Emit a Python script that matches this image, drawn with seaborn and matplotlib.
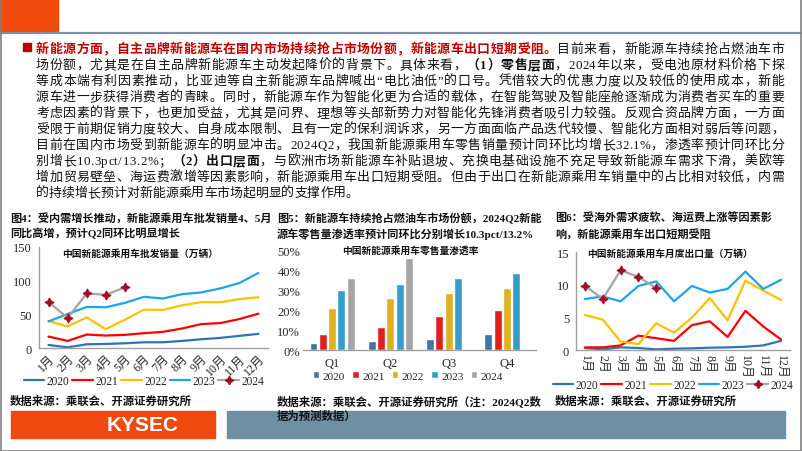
import numpy as np
import pandas as pd
import seaborn as sns
import matplotlib
matplotlib.use("Agg")
import matplotlib.pyplot as plt
from matplotlib import font_manager
from matplotlib.lines import Line2D
from matplotlib.patches import Rectangle

W, H = 802, 452
LATIN = "Liberation Serif"
CJK = "Noto Sans CJK SC"

# ---- data ----
months = ["1月", "2月", "3月", "4月", "5月", "6月", "7月", "8月", "9月", "10月", "11月", "12月"]
years = ["2020", "2021", "2022", "2023", "2024"]

# fig4: NEV passenger car wholesale (10k units)
wholesale_2020 = [4.5, 1.0, 5.5, 6.0, 7.0, 8.5, 8.5, 10.5, 13.0, 15.0, 18.0, 21.0]
wholesale_2021 = [17.0, 10.5, 20.0, 18.5, 19.5, 22.0, 24.0, 29.0, 35.5, 37.0, 43.0, 51.0]
wholesale_2022 = [40.0, 32.0, 45.5, 28.0, 42.0, 57.0, 56.5, 63.5, 68.0, 68.0, 72.5, 75.5]
wholesale_2023 = [39.5, 50.5, 61.0, 60.5, 67.0, 76.0, 73.5, 80.0, 82.5, 88.5, 96.5, 111.5]
wholesale_2024 = [68.5, 44.5, 81.0, 79.0, 90.0]

# fig5: retail penetration rate (%)
quarters = ["Q1", "Q2", "Q3", "Q4"]
pen_2020 = [3.5, 4.4, 5.4, 7.9]
pen_2021 = [8.2, 11.7, 17.4, 20.3]
pen_2022 = [21.1, 26.5, 28.7, 31.2]
pen_2023 = [30.2, 33.3, 36.4, 39.1]
pen_2024 = [36.2, 46.5, np.nan, np.nan]
pen_ticks = [0, 10, 20, 30, 40, 50]
pen_ticklabels = ["0%", "10%", "20%", "30%", "40%", "50%"]

# fig6: monthly exports (10k units)
export_2020 = [0.3, 0.1, 0.4, 0.3, 0.1, 0.2, 0.25, 0.35, 0.4, 0.5, 0.7, 1.4]
export_2021 = [0.4, 0.4, 0.7, 2.2, 1.8, 1.4, 3.8, 4.4, 2.0, 6.0, 3.6, 1.6]
export_2022 = [5.35, 4.65, 1.3, 0.9, 4.1, 2.65, 4.95, 7.95, 4.55, 10.6, 9.1, 7.65]
export_2023 = [7.8, 8.2, 7.45, 9.8, 10.5, 7.45, 9.8, 8.8, 9.35, 12.0, 9.35, 10.75]
export_2024 = [9.85, 7.8, 12.2, 11.2, 9.45]

RED = "#C00000"
BLK = "#111111"
para = [
    [("新能源方面，自主品牌新能源车在国内市场持续抢占市场份额，新能源车出口短期受阻。", RED, "bold"),
     ("目前来看，新能源车持续抢占燃油车市", BLK, "normal")],
    [("场份额，尤其是在自主品牌新能源车主动发起降价的背景下。具体来看，", BLK, "normal"),
     ("（1）零售层面", BLK, "bold"), ("，2024年以来，受电池原材料价格下探", BLK, "normal")],
    [("等成本端有利因素推动，比亚迪等自主新能源车品牌喊出“电比油低”的口号。凭借较大的优惠力度以及较低的使用成本，新能", BLK, "normal")],
    [("源车进一步获得消费者的青睐。同时，新能源车作为智能化更为合适的载体，在智能驾驶及智能座舱逐渐成为消费者买车的重要", BLK, "normal")],
    [("考虑因素的背景下，也更加受益，尤其是问界、理想等头部新势力对智能化先锋消费者吸引力较强。反观合资品牌方面，一方面", BLK, "normal")],
    [("受限于前期促销力度较大、自身成本限制、且有一定的保利润诉求，另一方面面临产品迭代较慢、智能化方面相对弱后等问题，", BLK, "normal")],
    [("目前在国内市场受到新能源车的明显冲击。2024Q2，我国新能源乘用车零售销量预计同环比均增长32.1%，渗透率预计同环比分", BLK, "normal")],
    [("别增长10.3pct/13.2%；", BLK, "normal"), ("（2）出口层面", BLK, "bold"),
     ("，与欧洲市场新能源车补贴退坡、充换电基础设施不充足导致新能源车需求下滑，美欧等", BLK, "normal")],
    [("增加贸易壁垒、海运费激增等因素影响，新能源乘用车出口短期受阻。但由于出口在新能源乘用车销量中的占比相对较低，内需", BLK, "normal")],
    [("的持续增长预计对新能源乘用车市场起明显的支撑作用。", BLK, "normal")],
]

title4 = ["图4：受内需增长推动，新能源乘用车批发销量4、5月", "同比高增，预计Q2同环比明显增长"]
title5 = ["图5：新能源车持续抢占燃油车市场份额，2024Q2新能", "源车零售量渗透率预计同环比分别增长10.3pct/13.2%"]
title6 = ["图6：受海外需求疲软、海运费上涨等因素影", "响，新能源乘用车出口短期受阻"]
sub4 = "中国新能源乘用车批发销量（万辆）"
sub5 = "中国新能源乘用车零售量渗透率"
sub6 = "中国新能源乘用车月度出口量（万辆）"
src = "数据来源：乘联会、开源证券研究所"
src5 = ["数据来源：乘联会、开源证券研究所（注：2024Q2数", "据为预测数据）"]

pal = {"2020": "#2E75B6", "2021": "#FF0000", "2022": "#FFC000", "2023": "#1AA6E8", "2024": "#A5A5A5"}
MARK = "#A00D24"
AXC = "#A0A0A0"

sns.set_style("white")
plt.rcParams["font.family"] = [LATIN, CJK]
plt.rcParams["axes.unicode_minus"] = False

fig = plt.figure(figsize=(W / 100, H / 100), dpi=100)


def fx(x):
    return x / W


def fy(y):
    return 1 - y / H


def font_for(ch):
    return LATIN if ord(ch) < 0x2E80 else CJK


def advance(ch, fam, weight, size):
    path = font_manager.findfont(font_manager.FontProperties(family=fam, weight=weight))
    f = font_manager.get_font(path)
    f.set_size(size, 100)
    g = f.load_char(ord(ch))
    return g.linearHoriAdvance / 65536


def draw_line(y, segs, x0, x1, justify=True, size=9.3):
    chars = [(ch, c, w) for t, c, w in segs for ch in t]
    advs = [advance(ch, font_for(ch), w, size) for ch, c, w in chars]
    extra = (x1 - x0 - sum(advs)) / (len(chars) - 1) if justify else 0
    x = x0
    for (ch, c, w), a in zip(chars, advs):
        fig.text(fx(x), fy(y), ch, fontsize=size, color=c, fontweight=w,
                 family=font_for(ch), va="baseline", ha="left")
        x += a + extra


# ---- frame and header ----
fig.patches.append(Rectangle((0, fy(33)), fx(58), 33 / H, transform=fig.transFigure,
                             color="#F04A0C", zorder=1))
fig.lines.append(Line2D([0, 1], [fy(33.5), fy(33.5)], transform=fig.transFigure,
                        color="#7F8FA3", lw=1.6))
fig.patches.append(Rectangle((0.0008, 0.001), 0.998, 0.998, transform=fig.transFigure,
                             fill=False, edgecolor="#808080", lw=1.2, zorder=5))

# ---- paragraph ----
fig.patches.append(Rectangle((fx(23), fy(52)), 8 / W, 8 / H, transform=fig.transFigure,
                             color=RED, zorder=2))
for i, segs in enumerate(para):
    draw_line(53 + 16 * i, segs, 36, 784, justify=(i < len(para) - 1))

# ---- chart titles / sources ----
for tx, lines in [(10, title4), (277, title5), (555, title6)]:
    for j, t in enumerate(lines):
        fig.text(fx(tx), fy(218 + 16 * j), t, fontsize=8, fontweight="bold",
                 va="center", ha="left", color=BLK)
fig.text(fx(10), fy(401), src, fontsize=8.2, fontweight="bold", va="center", color=BLK)
fig.text(fx(555), fy(401), src, fontsize=8.2, fontweight="bold", va="center", color=BLK)
fig.text(fx(277), fy(401), src5[0], fontsize=8.2, fontweight="bold", va="center", color=BLK, zorder=4)
fig.text(fx(277), fy(416), src5[1], fontsize=8.2, fontweight="bold", va="center", color=BLK, zorder=4)


def style_axes(ax, left=True):
    sns.despine(ax=ax, left=not left)
    for s in ["left", "bottom"]:
        ax.spines[s].set_color(AXC)
        ax.spines[s].set_linewidth(1.0)
    ax.patch.set_visible(False)
    ax.tick_params(axis="y", which="major", length=3 if left else 0, width=0.8,
                   color=AXC, pad=2, labelsize=9)
    ax.tick_params(axis="x", which="major", length=0, pad=3, labelsize=8.6)
    ax.tick_params(axis="x", which="minor", length=3, width=0.8, color=AXC, direction="out")
    ax.set_xlabel("")
    ax.set_ylabel("")


def line_legend(ax, cx, cy):
    handles = [Line2D([], [], color=pal[y], lw=1.6) for y in years[:4]]
    handles.append(Line2D([], [], color=pal["2024"], lw=1.6, marker=(4, 1, 0), markersize=6,
                          markerfacecolor=MARK, markeredgecolor=MARK))
    ax.legend(handles, years, ncol=5, loc="center", bbox_to_anchor=(fx(cx), fy(cy)),
              bbox_transform=fig.transFigure, frameon=False, fontsize=8.3,
              handlelength=1.8, handletextpad=0.2, columnspacing=0.25, borderpad=0)


def monthly_chart(rect, series, s2024, ymax, yticks, rot, sub, sub_xy, leg_xy):
    ax = fig.add_axes(rect)
    df = pd.DataFrame({
        "month": months * 4,
        "value": sum(series, []),
        "year": np.repeat(years[:4], 12),
    })
    sns.lineplot(data=df, x="month", y="value", hue="year", palette=pal, linewidth=1.6,
                 sort=False, legend=False, ax=ax)
    sns.lineplot(x=months[:5], y=s2024, color=pal["2024"], linewidth=1.6, sort=False,
                 marker=(4, 1, 0), markersize=6.5, markerfacecolor=MARK,
                 markeredgecolor=MARK, ax=ax)
    ax.set_xlim(-0.5, 11.5)
    ax.set_ylim(0, ymax)
    ax.set_yticks(yticks)
    ax.set_xticks(range(12))
    ax.set_xticks(np.arange(-0.5, 12, 1), minor=True)
    style_axes(ax)
    if rot == 45:
        ax.set_xticklabels(months, rotation=45, ha="right", rotation_mode="anchor")
    else:
        ax.set_xticklabels(months, rotation=-90, ha="center", va="top")
    fig.text(fx(sub_xy[0]), fy(sub_xy[1]), sub, fontsize=7, fontweight="bold",
             ha="center", va="center", color=BLK)
    line_legend(ax, *leg_xy)
    return ax


# ---- fig 4 ----
monthly_chart([fx(39), fy(349), 229 / W, 101 / H],
              [wholesale_2020, wholesale_2021, wholesale_2022, wholesale_2023], wholesale_2024,
              150, [0, 50, 100, 150], 45, sub4, (140, 254), (144, 382))

# ---- fig 5 ----
ax2 = fig.add_axes([fx(303), fy(351), 233 / W, 99 / H])
df5 = pd.DataFrame({
    "quarter": quarters * 5,
    "rate": pen_2020 + pen_2021 + pen_2022 + pen_2023 + pen_2024,
    "year": np.repeat(years, 4),
})
sns.barplot(data=df5, x="quarter", y="rate", hue="year", hue_order=years, palette=pal,
            width=0.8, gap=0.15, errorbar=None, ax=ax2)
ax2.set_ylim(0, 50)
ax2.set_yticks(pen_ticks)
ax2.set_yticklabels(pen_ticklabels)
ax2.set_xlim(-0.5, 3.5)
ax2.set_xticks(np.arange(-0.5, 4, 1), minor=True)
style_axes(ax2, left=False)
ax2.tick_params(axis="x", which="major", labelsize=9, pad=5)
ax2.legend(ncol=5, loc="center", bbox_to_anchor=(fx(408), fy(377)), bbox_transform=fig.transFigure,
           frameon=False, fontsize=8.2, handlelength=0.6, handleheight=0.6,
           handletextpad=0.3, columnspacing=0.6, borderpad=0)
fig.text(fx(410), fy(251), sub5, fontsize=7, fontweight="bold", ha="center", va="center", color=BLK)

# ---- fig 6 ----
monthly_chart([fx(576), fy(351), 214 / W, 98 / H],
              [export_2020, export_2021, export_2022, export_2023], export_2024,
              15, [0, 5, 10, 15], -90, sub6, (670, 254), (673, 386))

# ---- footer band ----
fig.patches.append(Rectangle((fx(11), fy(439)), 204 / W, 27 / H, transform=fig.transFigure,
                             color="#EE4A10", zorder=1))
fig.patches.append(Rectangle((fx(227), fy(439)), 558 / W, 27 / H, transform=fig.transFigure,
                             color="#6E8FA4", zorder=1))
fig.text(fx(143), fy(426), "KYSEC", fontsize=15, fontweight="bold", family="Liberation Sans",
         color="white", ha="center", va="center")

fig.savefig("out.png", dpi=100)
